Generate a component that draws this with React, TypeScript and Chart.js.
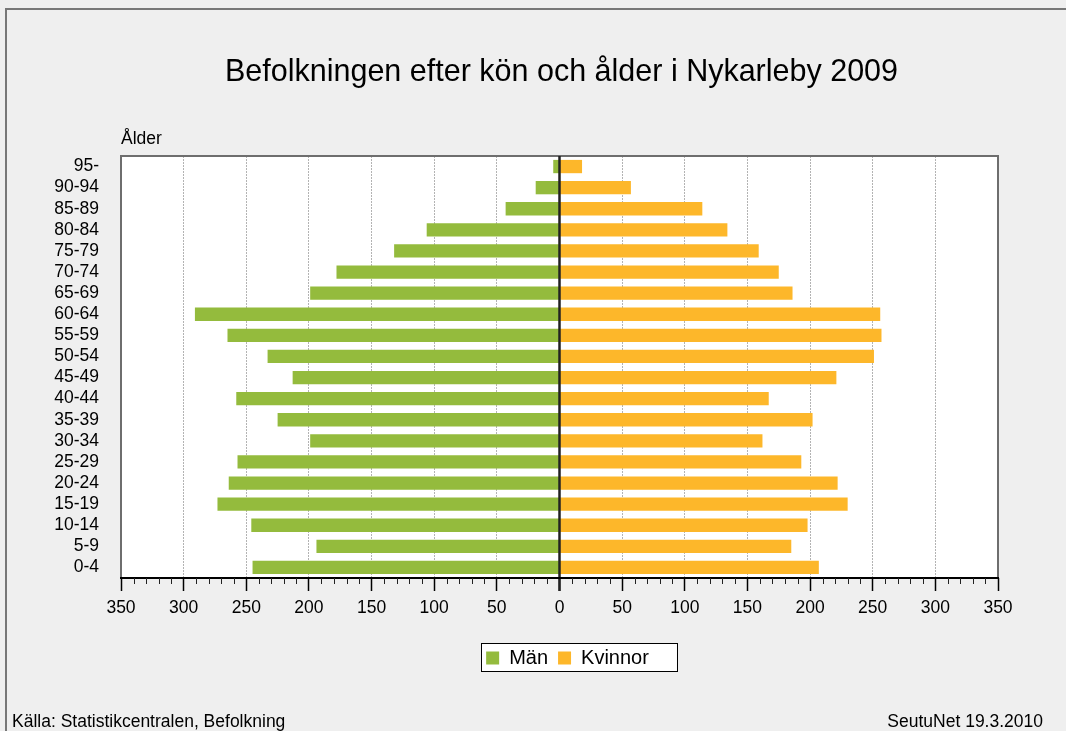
import React, { useEffect, useRef } from 'react';
import { Chart, registerables } from 'chart.js';

Chart.register(...registerables);

const chartTitle = 'Befolkningen efter kön och ålder i Nykarleby 2009';
const axisTitle = 'Ålder';
const sourceText = 'Källa: Statistikcentralen, Befolkning';
const stampText = 'SeutuNet 19.3.2010';

const ageGroups = ['95-', '90-94', '85-89', '80-84', '75-79', '70-74', '65-69', '60-64', '55-59', '50-54', '45-49', '40-44', '35-39', '30-34', '25-29', '20-24', '15-19', '10-14', '5-9', '0-4'];
const men = [5, 19, 43, 106, 132, 178, 199, 291, 265, 233, 213, 258, 225, 199, 257, 264, 273, 246, 194, 245];
const women = [18, 57, 114, 134, 159, 175, 186, 256, 257, 251, 221, 167, 202, 162, 193, 222, 230, 198, 185, 207];
const seriesNames = ['Män', 'Kvinnor'];
const xTickValues = [-350, -300, -250, -200, -150, -100, -50, 0, 50, 100, 150, 200, 250, 300, 350];
const xTickLabels = ['350', '300', '250', '200', '150', '100', '50', '0', '50', '100', '150', '200', '250', '300', '350'];
const minorStep = 10;

const FONT = "'Liberation Sans', Arial, sans-serif";
const GREEN = '#94BB3D';
const ORANGE = '#FDB72A';

const decor = {
  id: 'decor',
  afterLayout(chart: any) {
    const lg = chart.legend;
    if (lg) {
      lg.left += 8;
      lg.right += 8;
    }
  },
  beforeDraw(chart: any) {
    const { ctx, width, height, chartArea: a } = chart;
    ctx.save();
    ctx.fillStyle = '#efefef';
    ctx.fillRect(0, 0, width, height);
    // outer frame
    ctx.strokeStyle = '#777';
    ctx.lineWidth = 2;
    ctx.beginPath();
    ctx.moveTo(6, height);
    ctx.lineTo(6, 9);
    ctx.lineTo(width, 9);
    ctx.stroke();
    // plot background
    ctx.fillStyle = '#fff';
    ctx.fillRect(a.left, a.top, a.right - a.left, a.bottom - a.top);
    // legend box
    const lg = chart.legend;
    if (lg && lg.legendHitBoxes && lg.legendHitBoxes.length) {
      const hb = lg.legendHitBoxes;
      const l = hb[0].left - 5;
      const r = hb[hb.length - 1].left + hb[hb.length - 1].width + 28;
      const t = hb[0].top - 5;
      const b = hb[0].top + hb[0].height + 3;
      ctx.fillStyle = '#fff';
      ctx.fillRect(l, t, r - l, b - t);
      ctx.strokeStyle = '#000';
      ctx.lineWidth = 1;
      ctx.strokeRect(Math.round(l) + 0.5, Math.round(t) + 0.5, Math.round(r - l), Math.round(b - t));
    }
    // texts
    ctx.fillStyle = '#000';
    ctx.font = `30.5px ${FONT}`;
    ctx.textAlign = 'center';
    ctx.textBaseline = 'middle';
    ctx.fillText(chartTitle, (a.left + a.right) / 2 + 2, 73);
    ctx.font = `17.5px ${FONT}`;
    ctx.textAlign = 'left';
    ctx.textBaseline = 'alphabetic';
    ctx.fillText(axisTitle, a.left, 144);
    ctx.fillText(sourceText, 12, 727);
    ctx.textAlign = 'right';
    ctx.fillText(stampText, 1043, 727);
    ctx.restore();
  },
  afterDatasetsDraw(chart: any) {
    const { ctx, chartArea: a } = chart;
    const xs = chart.scales.x;
    ctx.save();
    // plot frame (left, top, right)
    ctx.strokeStyle = '#6e6e6e';
    ctx.lineWidth = 2;
    ctx.beginPath();
    ctx.moveTo(a.left, a.bottom);
    ctx.lineTo(a.left, a.top);
    ctx.lineTo(a.right, a.top);
    ctx.lineTo(a.right, a.bottom);
    ctx.stroke();
    // zero line
    const x0 = xs.getPixelForValue(0);
    ctx.strokeStyle = '#222';
    ctx.lineWidth = 2.5;
    ctx.beginPath();
    ctx.moveTo(x0, a.top);
    ctx.lineTo(x0, a.bottom + 13);
    ctx.stroke();
    // bottom axis line
    ctx.strokeStyle = '#000';
    ctx.lineWidth = 2;
    ctx.beginPath();
    ctx.moveTo(a.left - 1, a.bottom);
    ctx.lineTo(a.right + 1, a.bottom);
    ctx.stroke();
    // minor ticks
    ctx.lineWidth = 1;
    ctx.strokeStyle = '#222';
    const min = xTickValues[0];
    const max = xTickValues[xTickValues.length - 1];
    for (let v = min; v <= max; v += minorStep) {
      if (v % 50 === 0) continue;
      const px = Math.round(xs.getPixelForValue(v)) + 0.5;
      ctx.beginPath();
      ctx.moveTo(px, a.bottom);
      ctx.lineTo(px, a.bottom + 6);
      ctx.stroke();
    }
    ctx.restore();
  },
};

export default function App() {
  const ref = useRef<HTMLCanvasElement>(null);
  useEffect(() => {
    if (!ref.current) return;
    const chart = new Chart(ref.current, {
      type: 'bar',
      data: {
        labels: ageGroups,
        datasets: [
          { label: seriesNames[0], data: men.map((v) => -v), backgroundColor: GREEN, borderWidth: 0 },
          { label: seriesNames[1], data: women, backgroundColor: ORANGE, borderWidth: 0 },
        ],
      },
      options: {
        indexAxis: 'y',
        responsive: false,
        devicePixelRatio: 1,
        animation: false,
        layout: { padding: { left: 0, right: 68, top: 156, bottom: 53 } },
        datasets: { bar: { categoryPercentage: 1, barPercentage: 0.63 } },
        scales: {
          x: {
            type: 'linear',
            stacked: true,
            min: -350,
            max: 350,
            afterBuildTicks: (scale: any) => {
              scale.ticks = xTickValues.map((v) => ({ value: v }));
            },
            afterFit: (scale: any) => {
              scale.height = 60;
            },
            ticks: {
              autoSkip: false,
              maxRotation: 0,
              padding: 7,
              color: '#000',
              font: { family: FONT, size: 17.5 },
              callback: (_v: any, i: number) => xTickLabels[i],
            },
            grid: {
              drawOnChartArea: true,
              drawTicks: true,
              tickLength: 13,
              tickWidth: 1.5,
              tickColor: '#000',
              lineWidth: 1,
              color: (c: any) => {
                const v = c.tick ? c.tick.value : null;
                if (v === -350 || v === 350 || v === 0) return 'rgba(0,0,0,0)';
                return '#b3b3b3';
              },
            },
            border: { display: false, dash: [2, 1] },
          },
          y: {
            type: 'category',
            stacked: true,
            afterFit: (scale: any) => {
              scale.width = 121;
            },
            ticks: {
              autoSkip: false,
              padding: 22,
              color: '#000',
              font: { family: FONT, size: 17.5 },
            },
            grid: { display: false, drawTicks: false },
            border: { display: false },
          },
        },
        plugins: {
          title: { display: false },
          tooltip: { enabled: false },
          legend: {
            display: true,
            position: 'bottom',
            fullSize: false,
            labels: {
              boxWidth: 13,
              boxHeight: 13,
              padding: 10,
              color: '#000',
              font: { family: FONT, size: 20 },
            },
          },
        },
      },
      plugins: [decor],
    } as any);
    return () => chart.destroy();
  }, []);
  return (
    <div style={{ position: 'fixed', left: 0, top: 0, width: 1066, height: 731, background: '#efefef' }}>
      <canvas ref={ref} width={1066} height={731} style={{ display: 'block', width: 1066, height: 731 }} />
    </div>
  );
}
